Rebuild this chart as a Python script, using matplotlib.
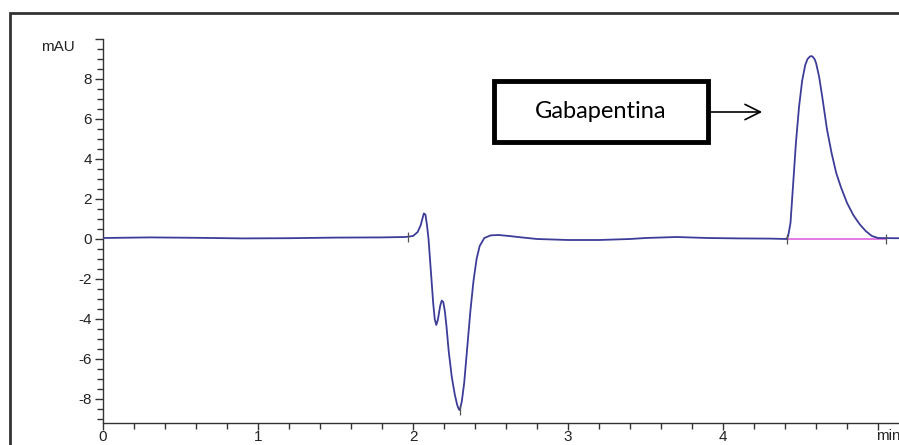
import matplotlib
matplotlib.use("Agg")
import matplotlib.pyplot as plt
from matplotlib.patches import Rectangle
from matplotlib.ticker import MultipleLocator

# chromatogram trace (time in min, signal in mAU)
t = [0.0, 0.3, 0.6, 0.9, 1.2, 1.5, 1.8, 1.95, 2.0, 2.03, 2.05, 2.06, 2.07,
     2.08, 2.09, 2.10, 2.115, 2.13, 2.14, 2.15, 2.16, 2.175, 2.185, 2.195,
     2.205, 2.215, 2.23, 2.25, 2.27, 2.285, 2.295, 2.30, 2.305, 2.315, 2.33,
     2.35, 2.37, 2.39, 2.41, 2.43, 2.46, 2.50, 2.55, 2.62, 2.7, 2.8, 3.0,
     3.2, 3.4, 3.5, 3.7, 3.9, 4.1, 4.3, 4.41, 4.42, 4.435, 4.45, 4.47, 4.49,
     4.51, 4.53, 4.545, 4.56, 4.57, 4.58, 4.59, 4.60, 4.62, 4.64, 4.67, 4.70,
     4.73, 4.76, 4.80, 4.84, 4.88, 4.92, 4.96, 5.0, 5.1, 5.135]
mau = [0.05, 0.08, 0.06, 0.03, 0.04, 0.07, 0.08, 0.1, 0.15, 0.35, 0.7, 1.0,
       1.28, 1.22, 0.7, 0.0, -1.6, -3.2, -4.0, -4.3, -4.05, -3.35, -3.08,
       -3.15, -3.6, -4.3, -5.6, -6.9, -7.8, -8.3, -8.5, -8.55, -8.45, -8.1,
       -7.2, -5.4, -3.6, -2.1, -1.0, -0.35, 0.05, 0.18, 0.2, 0.15, 0.08, 0.0,
       -0.05, -0.05, 0.0, 0.05, 0.1, 0.05, 0.03, 0.02, 0.0, 0.15, 0.8, 2.5,
       4.8, 6.6, 7.9, 8.7, 9.0, 9.12, 9.15, 9.1, 9.0, 8.8, 8.1, 7.1, 5.5, 4.3,
       3.3, 2.6, 1.8, 1.2, 0.75, 0.4, 0.15, 0.05, 0.04, 0.04]

# integration baseline of the gabapentin peak
base_t = [4.41, 5.05]
base_v = [0.0, 0.0]
# integration event marks
mark_t = [1.97, 2.30, 4.41, 5.05]
mark_v = [0.1, -8.55, 0.0, 0.0]

W, H = 899, 445
fig = plt.figure(figsize=(W / 100, H / 100), dpi=100)
ax = fig.add_axes([103 / W, 22 / H, (W - 103) / W, 384 / H])

ax.plot(t, mau, color="#3d3d99", lw=1.3, zorder=3, solid_joinstyle="round")
ax.plot(base_t, base_v, color="#e070e0", lw=1.3, zorder=2)
ax.vlines(mark_t, [v - 0.25 for v in mark_v], [v + 0.25 for v in mark_v],
          color="#555555", lw=0.9, zorder=4)

ax.set_xlim(0, 5.135)
ax.set_ylim(-9.2, 10)
ax.spines["top"].set_visible(False)
ax.spines["right"].set_visible(False)
for s in ("left", "bottom"):
    ax.spines[s].set_color("#333333")
    ax.spines[s].set_linewidth(1.0)

ax.xaxis.set_major_locator(MultipleLocator(1))
ax.xaxis.set_minor_locator(MultipleLocator(0.2))
ax.yaxis.set_major_locator(MultipleLocator(2))
ax.yaxis.set_minor_locator(MultipleLocator(0.5))
ax.tick_params(which="major", length=6, width=1, color="#333333",
               labelsize=11, labelcolor="#222222", pad=2)
ax.tick_params(which="minor", length=4, width=1, color="#333333")
ax.tick_params(axis="x", which="major", length=5, pad=0)
ax.set_xticks([0, 1, 2, 3, 4, 5])
ax.set_xticklabels(["0", "1", "2", "3", "4", ""])
ax.set_yticks([-8, -6, -4, -2, 0, 2, 4, 6, 8, 10])
ax.set_yticklabels(["-8", "-6", "-4", "-2", "0", "2", "4", "6", "8", ""])
for lab in ax.get_xticklabels() + ax.get_yticklabels():
    lab.set_family("Liberation Sans")

ax.text(-0.18, 9.6, "mAU", ha="right", va="center", fontsize=11,
        family="Liberation Sans", color="#222222")
ax.text(4.99, -9.48, "min", ha="left", va="top", fontsize=11,
        family="Liberation Sans", color="#222222", clip_on=False)

# annotation box and arrow
ax.add_patch(Rectangle((2.52, 4.85), 1.38, 3.05, fill=False, lw=3.5,
                       edgecolor="black", zorder=5))
ax.text(3.21, 6.35, "Gabapentina", ha="center", va="center", fontsize=17,
        family="Lato", color="black", zorder=6)
ax.annotate("", xy=(4.27, 6.35), xytext=(3.905, 6.35),
            arrowprops=dict(arrowstyle="->,head_length=1.1,head_width=0.55",
                            lw=1.2, color="black"), zorder=6)

# outer frame of the page
fig.add_artist(Rectangle((10 / W, -0.1), 1.2, 1.1 - 13 / H,
                         transform=fig.transFigure, fill=False, lw=2,
                         edgecolor="#333333", clip_on=False))

fig.savefig("out.png", dpi=100)
